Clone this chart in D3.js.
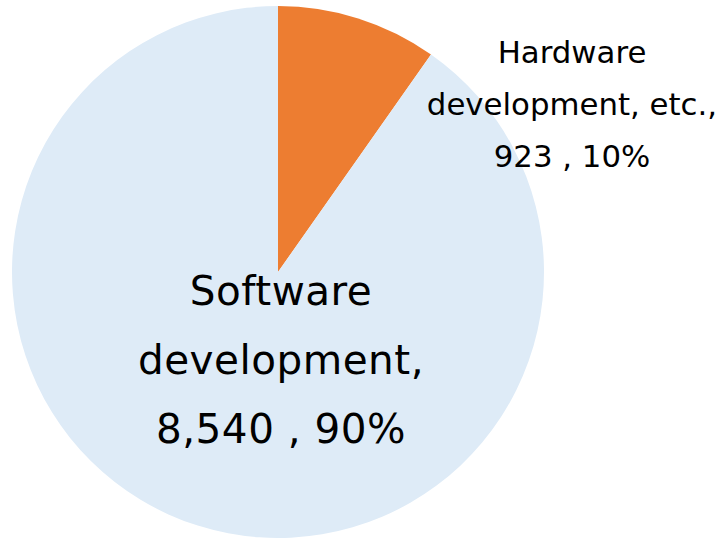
<!DOCTYPE html>
<html>
<head>
<meta charset="utf-8">
<script src="https://cdn.jsdelivr.net/npm/d3@7"></script>
<style>
  body { margin: 0; background: #fff; }
  svg text { font-family: "DejaVu Sans", Verdana, sans-serif; fill: #000; }
</style>
</head>
<body>
<svg id="chart" width="719" height="538"></svg>
<script>
// Chart data
const categories = ["Hardware development, etc.", "Software development"];
const values = [923, 8540];
const percents = ["10%", "90%"];
const colors = ["#ED7D31", "#DEEBF7"];

// label lines for each slice
const labelLines = [
  ["Hardware", "development, etc.,", "923 , 10%"],
  ["Software", "development,", "8,540 , 90%"]
];

const svg = d3.select("#chart");
const cx = 278, cy = 272, radius = 266;

const pie = d3.pie().sort(null).value(d => d.value);
const arc = d3.arc().innerRadius(0).outerRadius(radius);

const data = categories.map((c, i) => ({ name: c, value: values[i], pct: percents[i], color: colors[i], lines: labelLines[i] }));

const g = svg.append("g").attr("transform", `translate(${cx},${cy})`);

g.selectAll("path")
  .data(pie(data))
  .enter().append("path")
    .attr("d", arc)
    .attr("fill", d => d.data.color);

// Label positions (relative to pie center)
const labelPos = [
  { x: 294, y: -209, size: 30.8, gap: 52, ls: 0 },
  { x: 3, y: 33, size: 40.5, gap: 69, ls: 0.5 }
];

data.forEach(function(d, i) {
  let p = labelPos[i];
  let t = svg.append("text")
    .attr("text-anchor", "middle")
    .attr("font-size", p.size + "px")
    .attr("letter-spacing", p.ls);
  d.lines.forEach(function(line, j) {
    t.append("tspan")
      .attr("x", cx + p.x)
      .attr("y", cy + p.y + j * p.gap)
      .text(line);
  });
});
</script>
</body>
</html>
